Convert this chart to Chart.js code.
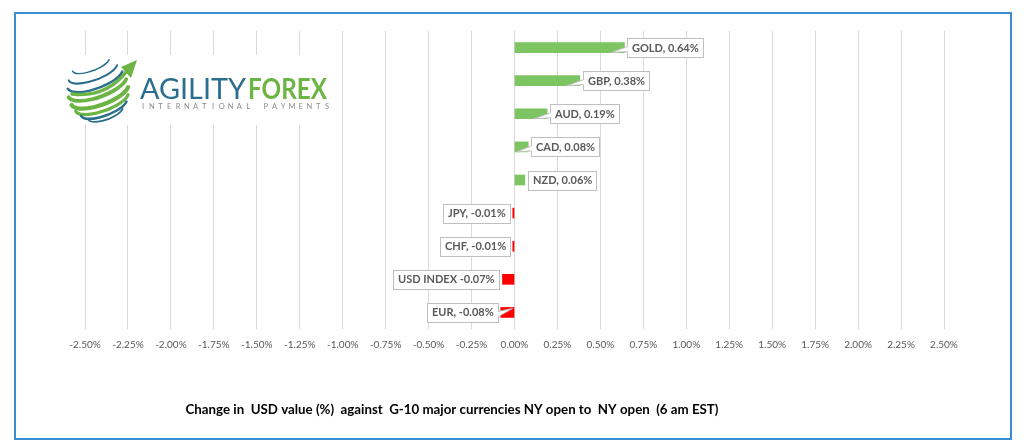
<!DOCTYPE html>
<html>
<head>
<meta charset="utf-8">
<script src="https://cdn.jsdelivr.net/npm/chart.js@4.4.1/dist/chart.umd.min.js"></script>
<style>
  body { margin: 0; background: #fff; }
  #wrap { width: 1024px; height: 448px; }
</style>
</head>
<body>
<div id="wrap"><canvas id="fxChart" width="1024" height="448"></canvas></div>
<script>
// datos del gráfico
const currencies = ['GOLD', 'GBP', 'AUD', 'CAD', 'NZD', 'JPY', 'CHF', 'USD INDEX', 'EUR'];
const changes = [0.64, 0.38, 0.19, 0.08, 0.06, -0.01, -0.01, -0.07, -0.08];
const labelSeparators = [', ', ', ', ', ', ', ', ', ', ', ', ', ', ' ', ', '];
const xTicks = [-2.5, -2.25, -2, -1.75, -1.5, -1.25, -1, -0.75, -0.5, -0.25, 0, 0.25, 0.5, 0.75, 1, 1.25, 1.5, 1.75, 2, 2.25, 2.5];
const chartTitle = 'Change in  USD value (%)  against  G-10 major currencies NY open to  NY open  (6 am EST)';

const GREEN = '#7dc562';
const RED = '#ff0000';
const FONT = 'Lato, "Open Sans", sans-serif';

// texto estirado/comprimido para ocupar un ancho fijo
function fitText(ctx, text, x, y, width) {
    const w = ctx.measureText(text).width;
    ctx.save();
    ctx.translate(x, y);
    ctx.scale(width / w, 1);
    ctx.fillText(text, 0, 0);
    ctx.restore();
}

// logo de Agility Forex (dibujado a mano)
function drawLogo(ctx) {
    ctx.save();
    ctx.fillStyle = '#fff';
    ctx.fillRect(55, 55, 282, 70);

    const blue = '#2a6e8e';
    const green = '#6cb443';
    const cx = 98, cy = 88, R = 31;
    const stripes = [
        [-24, blue, 1.5], [-17, blue, 2], [-10, blue, 2.4],
        [-2, green, 3.8], [6, green, 4.2], [13, green, 3.2],
        [19, blue, 2.4], [25, blue, 1.8]
    ];
    ctx.lineCap = 'round';
    stripes.forEach(function(s) {
        const dy = s[0];
        const rx = Math.sqrt(R * R - dy * dy);
        ctx.strokeStyle = s[1];
        ctx.lineWidth = s[2];
        ctx.beginPath();
        ctx.ellipse(cx + dy * 0.3, cy + dy, rx, rx * 0.36, -0.35, Math.PI * 0.1, Math.PI * 0.98);
        ctx.stroke();
    });
    // flecha verde
    ctx.strokeStyle = green;
    ctx.lineWidth = 3.5;
    ctx.beginPath();
    ctx.moveTo(72, 94);
    ctx.quadraticCurveTo(106, 98, 127, 71);
    ctx.stroke();
    ctx.fillStyle = green;
    ctx.beginPath();
    ctx.moveTo(137, 60);
    ctx.lineTo(131, 78);
    ctx.lineTo(121, 67);
    ctx.closePath();
    ctx.fill();

    // texto del logo
    ctx.textBaseline = 'alphabetic';
    ctx.textAlign = 'left';
    ctx.font = '28px Lato, sans-serif';
    ctx.fillStyle = blue;
    fitText(ctx, 'AGILITY', 140, 99, 106);
    ctx.font = 'bold 28px Lato, sans-serif';
    ctx.fillStyle = green;
    fitText(ctx, 'FOREX', 248, 99, 79);

    const sub = 'INTERNATIONAL PAYMENTS';
    ctx.font = '7.5px Lato, sans-serif';
    ctx.fillStyle = '#8a8a8a';
    const x0 = 143, x1 = 327;
    const step = (x1 - x0) / (sub.length - 1);
    ctx.textAlign = 'center';
    for (let i = 0; i < sub.length; i++) {
        ctx.fillText(sub[i], x0 + i * step, 109);
    }
    ctx.restore();
}

const logoPlugin = {
    id: 'logo',
    beforeDatasetsDraw(chart) {
        drawLogo(chart.ctx);
    }
};

// etiquetas tipo "callout"
const calloutPlugin = {
    id: 'callouts',
    afterDatasetsDraw(chart) {
        const ctx = chart.ctx;
        const meta = chart.getDatasetMeta(0);
        const zeroX = chart.scales.x.getPixelForValue(0);
        ctx.save();
        ctx.font = 'bold 11px ' + FONT;
        ctx.textBaseline = 'middle';
        meta.data.forEach(function(bar, i) {
            const v = changes[i];
            const text = currencies[i] + labelSeparators[i] + v.toFixed(2) + '%';
            const w = Math.round(ctx.measureText(text).width + 9);
            const h = 19;
            const y = bar.y;
            const endX = bar.x;
            const len = Math.abs(endX - zeroX);
            let bx = v >= 0 ? endX + 3 : endX - 3 - w;
            const by = Math.round(y - h / 2) + 0.5;
            bx = Math.round(bx) + 0.5;

            ctx.fillStyle = '#fff';
            ctx.strokeStyle = '#bfbfbf';
            ctx.lineWidth = 1;
            ctx.fillRect(bx, by, w, h);
            ctx.strokeRect(bx, by, w, h);

            // cuña blanca hacia la barra
            if (len >= 13) {
                const tip = Math.min(13, len - 2);
                const pts = v >= 0
                    ? [[bx, y - 1], [endX - tip, y + 5], [bx, y + 4]]
                    : [[bx + w, y - 1], [endX + tip, y - 4], [bx + w, y + 4]];
                ctx.beginPath();
                ctx.moveTo(pts[0][0], pts[0][1]);
                ctx.lineTo(pts[1][0], pts[1][1]);
                ctx.lineTo(pts[2][0], pts[2][1]);
                ctx.closePath();
                ctx.fill();
                ctx.beginPath();
                ctx.moveTo(pts[0][0], pts[0][1]);
                ctx.lineTo(pts[1][0], pts[1][1]);
                ctx.lineTo(pts[2][0], pts[2][1]);
                ctx.stroke();
                ctx.fillRect(pts[0][0] - 0.5, y - 0.5, 1, 4);
            }

            ctx.fillStyle = '#595959';
            ctx.textAlign = 'left';
            ctx.fillText(text, bx + 4.5, y + 0.5);
        });
        ctx.restore();
    }
};

// marco azul y título inferior
const framePlugin = {
    id: 'frame',
    afterDraw(chart) {
        const ctx = chart.ctx;
        ctx.save();
        ctx.strokeStyle = '#3a8fd2';
        ctx.lineWidth = 2;
        ctx.strokeRect(15, 13, 996, 426);
        ctx.fillStyle = '#000';
        ctx.font = 'bold 13.3px ' + FONT;
        ctx.textAlign = 'center';
        ctx.textBaseline = 'middle';
        ctx.fillText(chartTitle, 452, 410);
        ctx.restore();
    }
};

document.addEventListener('DOMContentLoaded', function() {
    const ctx = document.getElementById('fxChart').getContext('2d');
    new Chart(ctx, {
        type: 'bar',
        data: {
            labels: currencies,
            datasets: [{
                data: changes,
                backgroundColor: changes.map(v => v >= 0 ? GREEN : RED),
                barThickness: 10,
                borderWidth: 0
            }]
        },
        options: {
            indexAxis: 'y',
            responsive: false,
            animation: false,
            layout: {
                padding: { left: 85, right: 80, top: 31, bottom: 87 }
            },
            plugins: {
                legend: { display: false },
                tooltip: { enabled: false },
                title: { display: false }
            },
            scales: {
                x: {
                    min: xTicks[0],
                    max: xTicks[xTicks.length - 1],
                    afterBuildTicks(axis) {
                        axis.ticks = xTicks.map(v => ({ value: v }));
                    },
                    grid: { color: '#d9d9d9', drawTicks: false },
                    border: { display: false },
                    ticks: {
                        padding: 10,
                        color: '#595959',
                        font: { family: FONT, size: 10 },
                        maxRotation: 0,
                        callback: function(value) {
                            return (Math.round(value * 100) / 100).toFixed(2) + '%';
                        }
                    }
                },
                y: {
                    display: false,
                    grid: { display: false }
                }
            }
        },
        plugins: [logoPlugin, calloutPlugin, framePlugin]
    });
});
</script>
</body>
</html>
